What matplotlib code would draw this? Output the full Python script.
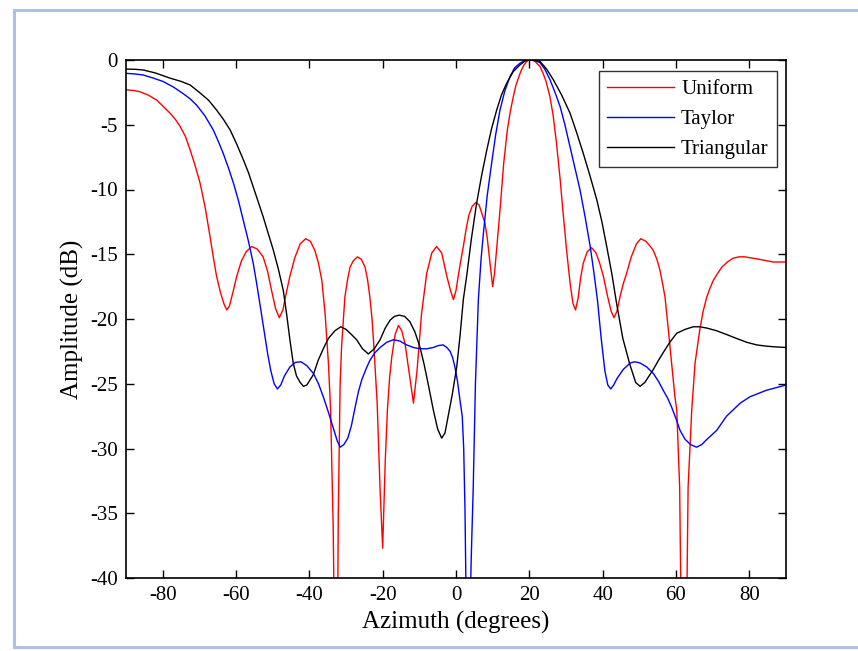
import matplotlib
matplotlib.use("Agg")
import matplotlib.pyplot as plt
from matplotlib.lines import Line2D

# beam patterns, amplitude in dB versus azimuth in degrees
uniform_az = [-90, -88, -86.2, -84, -81.6, -79.8, -78, -76.5, -75.3, -73.8,
              -72.5, -71.2, -69.8, -68.4, -67.1, -66.2, -65.3, -64.2, -63.2, -62.5,
              -61.8, -60.8, -59.8, -58.5, -57.2, -55.7, -54.2, -52.6, -51.4, -50.3,
              -49.2, -48.2, -47.2, -46.3, -45.3, -44.0, -42.5, -41.0, -39.7, -38.5,
              -37.5, -36.6, -35.7, -34.8, -34.2, -33.5, -33.0, -32.4, -32.1, -31.6,
              -31.2, -30.3, -29.6, -28.9, -28.0, -26.9, -25.8, -24.8, -24.1, -23.5,
              -22.9, -22.4, -21.5, -20.7, -20.0, -19.3, -18.7, -18.1, -17.5, -16.6,
              -15.7, -14.8, -13.9, -12.6, -11.6, -10.6, -9.4, -8.0, -6.6, -5.3,
              -3.9, -2.5, -1.5, -0.7, 0.0, 0.6, 1.3, 2.0, 2.8, 3.5,
              4.4, 5.4, 6.3, 7.0, 7.9, 8.5, 9.0, 9.6, 10.0, 10.5,
              11.1, 12.0, 13.0, 14.0, 14.8, 15.5, 16.3, 17.0, 17.8, 18.5,
              19.3, 20.0, 20.8, 21.5, 22.2, 22.9, 23.7, 24.5, 25.6, 26.5,
              27.4, 28.4, 29.3, 30.2, 31.1, 31.9, 32.6, 33.3, 34.0, 34.7,
              35.8, 37.0, 38.2, 39.2, 40.2, 41.3, 42.3, 43.1, 43.9, 44.8,
              45.7, 46.5, 47.8, 49.2, 50.4, 51.8, 53.0, 53.8, 54.8, 55.6,
              56.3, 57.0, 57.9, 58.8, 59.7, 60.2, 61.0, 61.6, 62.7, 63.3,
              64.3, 65.2, 66.5, 67.4, 68.4, 69.3, 70.2, 71.3, 72.5, 74.0,
              75.6, 77.2, 78.8, 80.8, 82.9, 86.5, 90]
uniform_db = [-2.3, -2.35, -2.45, -2.7, -3.1, -3.6, -4.1, -4.6, -5.1, -5.9,
              -6.95, -8.1, -9.5, -11.4, -13.6, -15.2, -16.7, -18.0, -18.9, -19.3,
              -19.0, -17.9, -16.7, -15.5, -14.8, -14.4, -14.6, -15.2, -16.3, -17.8,
              -19.2, -19.9, -19.3, -18.0, -16.7, -15.3, -14.2, -13.8, -14.0, -14.7,
              -15.7, -17.0, -19.6, -23.4, -27.0, -36.0, -48.0, -48.0, -35.0, -25.0,
              -22.1, -18.3, -17.0, -16.0, -15.5, -15.2, -15.4, -16.0, -17.0, -18.3,
              -20.0, -22.1, -26.5, -33.2, -37.7, -31.0, -27.0, -24.5, -22.9, -21.2,
              -20.5, -20.9, -21.9, -24.5, -26.5, -23.9, -19.6, -16.5, -14.9, -14.4,
              -14.9, -16.7, -17.8, -18.5, -17.8, -16.7, -15.5, -14.4, -13.0, -12.0,
              -11.3, -11.0, -11.2, -11.8, -12.6, -13.7, -15.0, -16.5, -17.5, -16.5,
              -14.5, -11.6, -8.0, -5.4, -4.0, -3.0, -2.0, -1.4, -0.8, -0.4,
              -0.1, 0.0, 0.0, -0.1, -0.3, -0.5, -1.0, -1.6, -2.8, -4.3,
              -6.4, -9.2, -12.1, -14.8, -17.2, -18.8, -19.3, -18.4, -16.8, -15.7,
              -14.8, -14.5, -14.9, -15.7, -16.7, -18.2, -19.4, -19.9, -19.4, -18.2,
              -17.2, -16.5, -15.2, -14.2, -13.8, -14.0, -14.4, -14.7, -15.4, -16.2,
              -17.2, -18.3, -20.8, -23.4, -26.0, -27.0, -33.0, -48.0, -48.0, -33.0,
              -27.0, -23.4, -20.8, -19.4, -18.3, -17.6, -17.0, -16.5, -16.0, -15.6,
              -15.3, -15.2, -15.2, -15.3, -15.4, -15.6, -15.6]

taylor_az = [-90, -87.5, -85.3, -82.5, -79.8, -77.0, -74.4, -72.5, -70.7, -68.5,
             -66.2, -64.8, -63.5, -62.1, -60.7, -59.3, -58.0, -56.6, -55.3, -54.4,
             -53.5, -52.3, -51.3, -50.5, -49.6, -48.7, -47.8, -46.8, -45.3, -43.8,
             -42.3, -40.7, -38.9, -37.5, -36.2, -34.8, -33.5, -32.4, -31.6, -30.6,
             -29.5, -28.5, -27.5, -26.6, -25.7, -24.6, -23.5, -22.1, -20.7, -18.9,
             -17.1, -15.3, -13.5, -11.6, -9.8, -8.0, -6.2, -4.8, -3.5, -2.5,
             -1.6, -0.9, -0.3, 0.4, 1.1, 1.7, 2.1, 2.45, 2.9, 3.6,
             4.2, 4.7, 5.3, 6.1, 6.8, 7.4, 8.5, 9.7, 10.8, 12.0,
             13.3, 14.7, 16.0, 17.4, 18.7, 20.0, 21.5, 22.9, 24.2, 25.6,
             27.0, 28.4, 29.7, 31.1, 32.4, 33.8, 35.2, 36.6, 37.6, 38.6,
             39.6, 40.6, 41.4, 42.2, 43.0, 43.9, 45.6, 47.5, 48.8, 50.2,
             52.0, 53.8, 55.2, 56.5, 57.7, 58.8, 60.0, 61.1, 62.5, 64.0,
             65.6, 67.0, 68.4, 71.1, 73.8, 77.5, 80.2, 84.7, 90]
taylor_db = [-1.03, -1.08, -1.16, -1.4, -1.67, -2.1, -2.6, -3.0, -3.5, -4.3,
             -5.4, -6.3, -7.2, -8.3, -9.5, -10.9, -12.4, -14.0, -15.7, -17.2,
             -18.8, -21.0, -22.8, -24.0, -25.0, -25.4, -25.1, -24.4, -23.7, -23.35,
             -23.3, -23.6, -24.2, -25.0, -26.0, -27.2, -28.4, -29.4, -29.9, -29.7,
             -29.2, -28.2, -26.8, -25.6, -24.7, -23.9, -23.2, -22.6, -22.2, -21.8,
             -21.6, -21.7, -22.0, -22.2, -22.3, -22.3, -22.2, -22.05, -22.0, -22.2,
             -22.5, -23.0, -23.7, -24.8, -26.3, -27.5, -30.0, -34.7, -45.0, -45.0,
             -38.0, -33.0, -25.0, -18.5, -15.5, -13.6, -10.5, -8.0, -5.8, -3.86,
             -2.4, -1.3, -0.6, -0.26, -0.05, 0.0, -0.05, -0.2, -0.7, -1.5,
             -2.5, -3.6, -5.0, -6.7, -8.3, -10.0, -12.1, -14.4, -16.4, -18.6,
             -21.5, -24.0, -25.1, -25.4, -25.1, -24.6, -23.9, -23.4, -23.3, -23.4,
             -23.7, -24.2, -24.8, -25.5, -26.1, -26.8, -27.7, -28.6, -29.3, -29.7,
             -29.9, -29.7, -29.3, -28.6, -27.5, -26.5, -26.0, -25.5, -25.1]

triangular_az = [-90, -87.5, -85.3, -82.0, -78.0, -75.0, -72.5, -70.0, -67.5, -65.3,
                 -63.4, -61.6, -59.8, -58.0, -56.6, -55.3, -54.0, -52.6, -51.2, -49.8,
                 -48.4, -47.1, -46.2, -45.3, -44.4, -43.5, -42.5, -41.6, -40.7, -39.8,
                 -38.9, -37.6, -36.2, -34.8, -33.0, -31.4, -30.0, -28.5, -27.1, -25.5,
                 -23.9, -22.3, -20.7, -19.3, -18.0, -16.8, -15.5, -14.0, -12.6, -11.2,
                 -9.8, -8.7, -7.6, -6.2, -5.0, -3.9, -3.0, -2.2, -1.0, 0.2,
                 1.1, 2.0, 3.0, 4.2, 5.6, 7.0, 8.4, 9.7, 11.1, 12.4,
                 13.8, 15.6, 17.4, 18.8, 20.0, 21.5, 22.9, 24.7, 26.5, 28.8,
                 31.1, 32.9, 34.7, 36.6, 38.4, 39.8, 41.1, 42.5, 43.8, 45.5,
                 47.4, 49.0, 50.2, 51.5, 53.8, 55.2, 56.5, 58.3, 60.2, 62.5,
                 64.7, 66.5, 68.4, 71.0, 73.8, 76.5, 79.3, 82.0, 84.7, 87.0,
                 90]
triangular_db = [-0.7, -0.72, -0.77, -1.0, -1.4, -1.65, -1.93, -2.5, -3.1, -3.86,
                 -4.6, -5.4, -6.5, -7.7, -8.7, -9.8, -10.9, -12.1, -13.4, -14.7,
                 -16.2, -17.8, -19.6, -21.6, -23.4, -24.4, -24.9, -25.2, -25.1, -24.7,
                 -24.3, -23.2, -22.3, -21.5, -20.9, -20.6, -20.8, -21.2, -21.6, -22.3,
                 -22.7, -22.3, -21.6, -20.7, -20.1, -19.8, -19.7, -19.8, -20.2, -21.0,
                 -22.2, -23.5, -25.0, -27.0, -28.5, -29.2, -28.8, -27.6, -25.8, -23.7,
                 -21.3, -18.5, -16.5, -13.8, -11.1, -8.9, -6.95, -5.3, -3.86, -2.7,
                 -1.8, -0.9, -0.39, -0.08, 0.0, -0.02, -0.1, -0.7, -1.5, -2.7,
                 -4.1, -5.6, -7.2, -9.0, -10.8, -12.5, -14.4, -16.5, -18.8, -21.5,
                 -23.5, -24.9, -25.2, -24.9, -23.9, -23.2, -22.6, -21.8, -21.1, -20.8,
                 -20.6, -20.6, -20.7, -20.9, -21.2, -21.5, -21.8, -22.0, -22.1, -22.15,
                 -22.2]

plt.rcParams["font.family"] = ["Liberation Serif", "DejaVu Serif"]
plt.rcParams["axes.unicode_minus"] = False

fig = plt.figure(figsize=(8.58, 6.51), dpi=100)
ax = fig.add_axes([126 / 858, 1 - 578 / 651, 660 / 858, 518 / 651])

ax.plot(uniform_az, uniform_db, color="#ff0000", lw=1.0, label="Uniform")
ax.plot(taylor_az, taylor_db, color="#0000ff", lw=1.0, label="Taylor")
ax.plot(triangular_az, triangular_db, color="black", lw=1.0, label="Triangular")

ax.set_xlim(-90, 90)
ax.set_ylim(-40, 0)
ax.set_xticks(range(-80, 81, 20))
ax.set_yticks(range(-40, 1, 5))
ax.tick_params(direction="in", top=True, right=True, length=6, width=1,
               labelsize=15, pad=6)
for sp in ax.spines.values():
    sp.set_linewidth(1.2)

ax.set_xlabel("Azimuth (degrees)", fontsize=18, labelpad=4)
ax.set_ylabel("Amplitude (dB)", fontsize=18, labelpad=4)

leg = ax.legend(loc="upper right", bbox_to_anchor=(777 / 858, 1 - 71 / 651),
                bbox_transform=fig.transFigure, fontsize=15, frameon=True,
                fancybox=False, handlelength=3.2, labelspacing=0.5,
                borderaxespad=0, handletextpad=0.35, borderpad=0.4)
leg.get_frame().set_edgecolor("black")
leg.get_frame().set_linewidth(1.0)

# light blue frame around the figure
frame_col = "#aebfe8"
fig.add_artist(Line2D([14 / 858, 1], [1 - 10 / 651] * 2, color=frame_col, lw=2.2))
fig.add_artist(Line2D([14 / 858] * 2, [1 - 10 / 651, 1 - 647 / 651], color=frame_col, lw=2.2))
fig.add_artist(Line2D([14 / 858, 1], [1 - 647 / 651] * 2, color=frame_col, lw=2.2))

fig.savefig("out.png", dpi=100)
